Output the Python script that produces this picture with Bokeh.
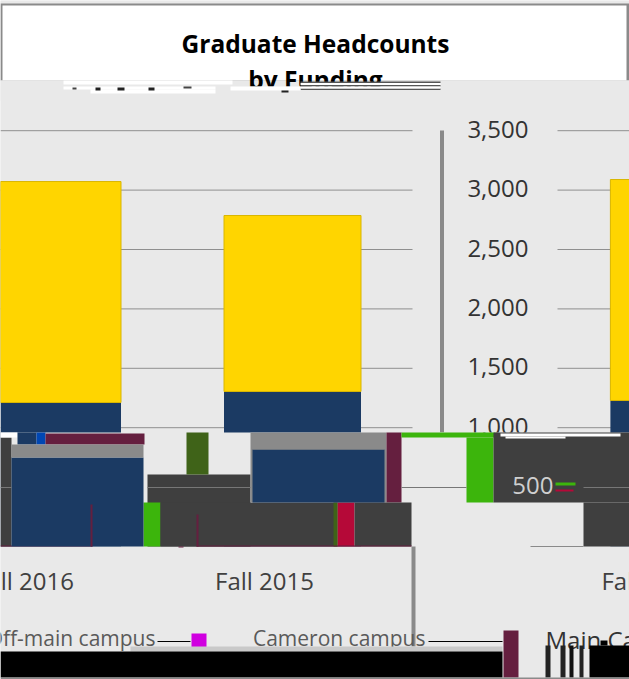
from bokeh.plotting import figure
from bokeh.models import Range1d, ColumnDataSource
from bokeh.core.properties import value
from bokeh.embed import file_html
from bokeh.resources import INLINE

title_lines = ["Graduate Headcounts", "by Funding"]
categories = ["Fall 2016", "Fall 2015", "Fall 2014"]
funded_a = [1212, 1305, 1229]
funded_b = [1860, 1481, 1860]
ticks = [3500, 3000, 2500, 2000, 1500, 1000, 500]
tick_labels = ["3,500", "3,000", "2,500", "2,000", "1,500", "1,000", "500"]
legend_labels = ["Off-main campus", "Cameron campus", "Main Campus"]

# repeated fragment of the stack, displaced in the damaged lower part of the picture
frag_base = [0, 370]
frag_navy = [749, 447]
frag_gray = [110, 133]

W, H = 629, 679
PX_PER_UNIT = 118.8 / 1000
ZERO_PY = 546
CAT_PX = 240
FIRST_PX = 52
pos = [0, 1, 2.61]


def val(py):
    return (ZERO_PY - py) / PX_PER_UNIT


def cat(px):
    return (px - FIRST_PX) / CAT_PX


p = figure(width=W, height=H, output_backend="svg", toolbar_location=None,
           x_range=Range1d(cat(0), cat(W)), y_range=Range1d(val(H), val(0)),
           min_border=0)
p.xaxis.visible = False
p.yaxis.visible = False
p.grid.visible = False
p.outline_line_color = None
p.background_fill_color = "#e9e9e9"
p.border_fill_color = "#e9e9e9"
p.extra_x_ranges = {"px": Range1d(0, W)}
p.extra_y_ranges = {"px": Range1d(H, 0)}

GOLD, NAVY, GRAY, MAROON = "#ffd500", "#1b3a63", "#8a8a8a", "#651f3f"
DARK, BG, GREEN, OLIVE = "#3f3f3f", "#e9e9e9", "#3cb50c", "#3f6318"
CRIMSON, BLACK, WHITE = "#b50938", "#000000", "#ffffff"


def blocks(items):
    x0, y0, x1, y1, c = zip(*items)
    p.quad(left=list(x0), right=list(x1), top=list(y0), bottom=list(y1),
           fill_color=list(c), line_color=None,
           x_range_name="px", y_range_name="px")


def ptext(x, y, s, size, color="#000000", align="center", style="normal", font="Open Sans"):
    p.text(x=[x], y=[y], text=[s], text_font=value(font), text_font_size=f"{size}px",
           text_font_style=style, text_color=color, text_align=align,
           text_baseline="middle", x_range_name="px", y_range_name="px")


# Upper panel: white header, title
blocks([(0, 0, W, H, BG), (0, 3, W, 80, GRAY), (2, 5, 626, 80, WHITE)])
ptext(315, 43, title_lines[0], 24.5, style="bold")
ptext(315, 79, title_lines[1], 24.5, style="bold")
blocks([
    (0, 86, W, 100, BG), (0, 80, 63, 100, BG), (440, 80, W, 100, BG),
    (63, 80, 232, 84, WHITE), (63, 86, 215, 89, WHITE), (90, 89, 215, 93, WHITE),
    (300, 81, 440, 82.5, "#555555"), (300, 84.5, 440, 86, "#555555"),
    (300, 88, 440, 89.5, "#555555"), (300, 82.5, 440, 84.5, WHITE),
    (300, 86, 440, 88, WHITE), (230, 86, 300, 90, WHITE),
    (72, 87, 76, 89, "#444444"), (95, 87, 100, 90, "#222222"),
    (117, 87, 124, 90, "#222222"), (148, 87, 154, 90, "#222222"),
    (183, 86, 191, 88, "#444444"), (281, 90, 288, 92, "#222222"),
])

# Gridlines and axis
for t in ticks[:-1]:
    p.segment(x0=[0, 557], x1=[412, W], y0=[ZERO_PY - t * PX_PER_UNIT] * 2,
              y1=[ZERO_PY - t * PX_PER_UNIT] * 2, line_color="#8f8f8f", line_width=1,
              x_range_name="px", y_range_name="px")
blocks([(439.5, 130, 443.5, 432, GRAY)])

# Stacked bars from the series
tops = [a + b for a, b in zip(funded_a, funded_b)]
src = ColumnDataSource(dict(x=pos, a=funded_a, top=tops))
p.vbar(x="x", width=137 / CAT_PX, bottom=0, top="a", source=src, fill_color=NAVY, line_color=None)
p.vbar(x="x", width=137 / CAT_PX, bottom="a", top="top", source=src, fill_color=GOLD, line_color="#d9b600", line_width=1)

# Tick labels
p.text(x=[cat(528)] * 6, y=ticks[:-1], text=tick_labels[:-1], text_font=value("Open Sans"),
       text_font_size="24px", text_color="#333333", text_align="right", text_baseline="middle",
       y_offset=-1.5)

# Damaged lower region
blocks([
    (0, 432, W, 546, BG), (0, 437, 11, 546, DARK),
    (0, 432, 17, 437, WHITE), (17, 432, 36, 444, NAVY), (36, 432, 45, 444, "#0047b3"),
    (45, 433, 144, 444, MAROON),
    (147, 474, 250, 546, DARK), (186, 432, 208, 474, OLIVE),
    (143, 502, 160, 546, GREEN), (160, 502, 337, 546, DARK),
    (250, 432, 386, 502, GRAY),
    (386, 432, 401, 502, MAROON), (337, 502, 354, 546, CRIMSON), (354, 502, 411, 546, DARK),
    (333, 502, 337, 546, OLIVE),
    (401, 432, 495, 437, GREEN), (466, 437, 493, 502, GREEN), (493, 432, W, 502, DARK),
    (583, 502, W, 546, DARK),
    (0, 545, 90, 546, MAROON), (196, 545, 411, 546, MAROON),
    (90, 504, 92, 546, MAROON), (196, 514, 198, 546, MAROON),
    (500, 433, 620, 436, WHITE), (505, 436, 565, 438, WHITE),
    (555, 482, 575, 485, GREEN), (555, 489, 573, 491, CRIMSON),
])
frag_x = [pos[0] + 25 / CAT_PX, pos[1] + 26 / CAT_PX]
frag_nt = [b + n for b, n in zip(frag_base, frag_navy)]
frag_gt = [t + g for t, g in zip(frag_nt, frag_gray)]
fsrc = ColumnDataSource(dict(x=frag_x, b=frag_base, n=frag_nt, g=frag_gt))
p.vbar(x="x", width=132 / CAT_PX, bottom="b", top="n", source=fsrc, fill_color=NAVY, line_color=None)
p.vbar(x="x", width=132 / CAT_PX, bottom="n", top="g", source=fsrc, fill_color=GRAY, line_color=None)
blocks([(90, 504, 92, 546, MAROON)])
p.segment(x0=[0, 147, 401, 583], x1=[11, 250, 466, W], y0=[487] * 4, y1=[487] * 4,
          line_color="#777777", line_width=1, x_range_name="px", y_range_name="px")
p.text(x=[cat(553)], y=[ticks[-1]], text=[tick_labels[-1]], text_font=value("Open Sans"),
       text_font_size="24px", text_color="#cfcfcf", text_align="right", text_baseline="middle",
       y_offset=-1.5)

# Category labels
p.text(x=[q - 28 / CAT_PX for q in pos], y=[-295] * 3, text=categories,
       text_font=value("Open Sans"), text_font_size="24px", text_color="#404040",
       text_align="center", text_baseline="middle", y_offset=-1)

# Vertical rule and legend band
blocks([(411, 546, 415, 646, GRAY), (530, 545.5, 583, 546.5, GRAY), (178, 546, 183, 547, MAROON)])
ptext(155, 637, legend_labels[0], 21, color="#5a5a5a", align="right")
ptext(425, 637, legend_labels[1], 21, color="#5a5a5a", align="right")
ptext(545, 639, legend_labels[2], 24, color="#333333", align="left")
p.segment(x0=[157, 428], x1=[190, 502], y0=[641, 641], y1=[641, 641], line_color=BLACK,
          line_width=1, x_range_name="px", y_range_name="px")
blocks([
    (191, 633, 206, 647, "#d000e0"),
    (130, 646, 502, 651, "#c9c9c9"),
    (0, 651, 502, 677, BLACK),
    (503, 630, 518, 677, MAROON),
    (545, 645, 550, 677, "#222222"), (560, 645, 565, 677, "#222222"),
    (569, 645, 573, 677, "#111111"), (579, 645, 583, 677, "#222222"),
    (589, 645, W, 677, BLACK), (600, 640, 607, 645, BLACK),
    (0, 677, W, H, GRAY),
])

open("out.html", "w").write(file_html(p, INLINE))
